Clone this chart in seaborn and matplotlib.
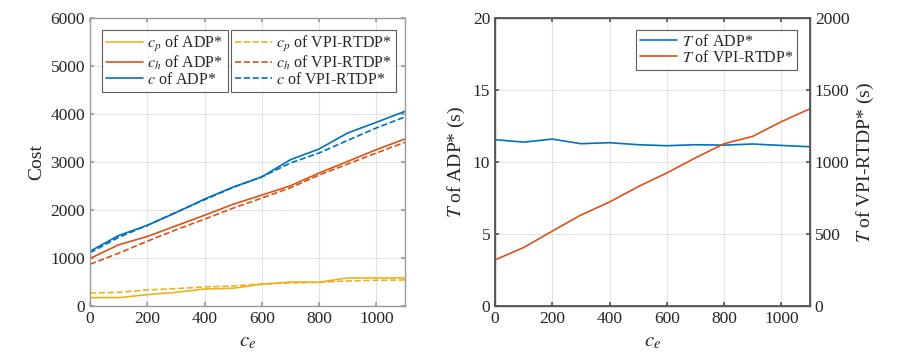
import seaborn as sns
import matplotlib.pyplot as plt
import pandas as pd

# cost data
ce = [0, 100, 200, 300, 400, 500, 600, 700, 800, 900, 1000, 1100]
cp_adp = [174, 174, 237, 285, 355, 370, 453, 500, 494, 585, 585, 585]
ch_adp = [990, 1275, 1447, 1670, 1890, 2120, 2310, 2505, 2770, 3013, 3257, 3480]
c_adp = [1140, 1468, 1680, 1945, 2228, 2478, 2690, 3048, 3271, 3605, 3827, 4056]
cp_vpi = [270, 285, 334, 362, 397, 418, 460, 480, 494, 522, 536, 543]
ch_vpi = [870, 1100, 1350, 1587, 1810, 2040, 2248, 2463, 2728, 2958, 3188, 3410]
c_vpi = [1110, 1430, 1680, 1950, 2215, 2470, 2690, 2979, 3188, 3451, 3710, 3939]

# running time
t_adp = [11.55, 11.38, 11.59, 11.27, 11.34, 11.2, 11.13, 11.2, 11.17, 11.25, 11.15, 11.06]
t_vpi = [320, 406, 520, 632, 722, 829, 924, 1029, 1127, 1178, 1280, 1370]

blue = '#0072BD'
orange = '#D95319'
yellow = '#EDB120'

sns.set_theme(style='ticks')
plt.rcParams['font.family'] = ['Liberation Serif', 'DejaVu Serif']
plt.rcParams['mathtext.fontset'] = 'stix'
plt.rcParams['xtick.direction'] = 'in'
plt.rcParams['ytick.direction'] = 'in'

fig = plt.figure(figsize=(9, 3.6), dpi=100)
ax1 = fig.add_axes([0.1, 0.15, 0.35, 0.8])
ax2 = fig.add_axes([0.55, 0.15, 0.35, 0.8])

df = pd.DataFrame({'ce': ce, 'cp_adp': cp_adp, 'ch_adp': ch_adp, 'c_adp': c_adp,
                   'cp_vpi': cp_vpi, 'ch_vpi': ch_vpi, 'c_vpi': c_vpi,
                   't_adp': t_adp, 't_vpi': t_vpi})

series = [('cp_adp', yellow, '-', '$c_p$ of ADP*'),
          ('ch_adp', orange, '-', '$c_h$ of ADP*'),
          ('c_adp', blue, '-', '$c$ of ADP*'),
          ('cp_vpi', yellow, '--', '$c_p$ of VPI-RTDP*'),
          ('ch_vpi', orange, '--', '$c_h$ of VPI-RTDP*'),
          ('c_vpi', blue, '--', '$c$ of VPI-RTDP*')]
for col, color, ls, lab in series:
    sns.lineplot(data=df, x='ce', y=col, ax=ax1, color=color, linestyle=ls,
                 linewidth=1.2, label=lab, legend=False)

ax1.set_xlim(0, 1100)
ax1.set_ylim(0, 6000)
ax1.set_xticks(range(0, 1001, 200))
ax1.set_yticks(range(0, 6001, 1000))
ax1.set_xlabel('$c_e$', fontsize=15)
ax1.set_ylabel('Cost', fontsize=14)

h, l = ax1.get_legend_handles_labels()
leg_kw = dict(fontsize=11.5, frameon=True, fancybox=False, edgecolor='#333333',
              handlelength=2.3, borderpad=0.25, labelspacing=0.0, handletextpad=0.3,
              borderaxespad=0)
leg1 = ax1.legend(h[:3], l[:3], loc='upper left', bbox_to_anchor=(0.038, 0.96), **leg_kw)
leg1.get_frame().set_linewidth(0.8)
ax1.add_artist(leg1)
leg2 = ax1.legend(h[3:], l[3:], loc='upper right', bbox_to_anchor=(0.973, 0.96), **leg_kw)
leg2.get_frame().set_linewidth(0.8)

# right panel with two y axes
ax3 = ax2.twinx()
sns.lineplot(data=df, x='ce', y='t_adp', ax=ax2, color=blue, linewidth=1.2,
             label='$T$ of ADP*', legend=False)
sns.lineplot(data=df, x='ce', y='t_vpi', ax=ax3, color=orange, linewidth=1.2,
             label='$T$ of VPI-RTDP*', legend=False)
ax2.set_xlim(0, 1100)
ax2.set_ylim(0, 20)
ax3.set_ylim(0, 2000)
ax2.set_xticks(range(0, 1001, 200))
ax2.set_yticks([0, 5, 10, 15, 20])
ax3.set_yticks(range(0, 2001, 500))
ax2.set_xlabel('$c_e$', fontsize=15)
ax2.set_ylabel('$T$ of ADP* (s)', fontsize=14)
ax3.set_ylabel('$T$ of VPI-RTDP* (s)', fontsize=14)
h2, l2 = ax2.get_legend_handles_labels()
h3, l3 = ax3.get_legend_handles_labels()
leg3 = ax3.legend(h2 + h3, l2 + l3, loc='upper right', bbox_to_anchor=(0.96, 0.96), **leg_kw)
leg3.get_frame().set_linewidth(0.8)

for ax, sc in ((ax1, '#9a9a9a'), (ax2, '#555555')):
    ax.grid(True, color='#e3e3e3', linewidth=0.8)
    ax.set_axisbelow(True)
    ax.tick_params(labelsize=12.5, top=True, right=(ax is ax1), length=3, color=sc)
    for s in ax.spines.values():
        s.set_visible(True)
        s.set_linewidth(1.0)
        s.set_color(sc)
ax3.tick_params(labelsize=12.5, length=3, color='#555555')
for s in ax3.spines.values():
    s.set_color('#555555')

plt.savefig('out.png', dpi=100)
